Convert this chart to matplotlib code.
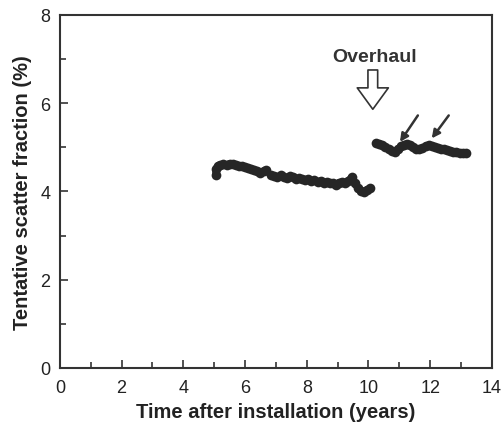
import matplotlib
matplotlib.use("Agg")
import matplotlib.pyplot as plt
from matplotlib.ticker import MultipleLocator

plt.rcParams["font.family"] = ["Liberation Sans", "DejaVu Sans"]

# before overhaul, first period
x1 = [5.05, 5.05, 5.12, 5.2, 5.3, 5.4, 5.5, 5.6, 5.7, 5.8, 5.9, 6.0, 6.1, 6.2, 6.3,
      6.4, 6.5, 6.6, 6.68]
y1 = [4.38, 4.50, 4.58, 4.60, 4.62, 4.60, 4.63, 4.62, 4.60, 4.58, 4.57, 4.55, 4.52,
      4.50, 4.48, 4.45, 4.42, 4.45, 4.48]

# before overhaul, second period
x2 = [6.85, 6.95, 7.05, 7.15, 7.25, 7.35, 7.45, 7.55, 7.65, 7.75, 7.85, 7.95, 8.05,
      8.15, 8.25, 8.35, 8.45, 8.55, 8.65, 8.75, 8.85, 8.95, 9.05, 9.15, 9.25, 9.35,
      9.45, 9.55, 9.65, 9.75, 9.85, 9.95, 10.05]
y2 = [4.36, 4.35, 4.33, 4.36, 4.33, 4.30, 4.34, 4.32, 4.28, 4.30, 4.27, 4.26, 4.28,
      4.24, 4.25, 4.22, 4.24, 4.20, 4.22, 4.19, 4.18, 4.15, 4.20, 4.22, 4.20, 4.24,
      4.32, 4.18, 4.08, 4.00, 3.98, 4.04, 4.07]

# after overhaul
x3 = [10.25, 10.35, 10.45, 10.55, 10.65, 10.75, 10.85, 10.95, 11.05, 11.15, 11.25,
      11.35, 11.45, 11.55, 11.65, 11.75, 11.85, 11.95, 12.05, 12.15, 12.25, 12.35,
      12.45, 12.55, 12.65, 12.75, 12.85, 12.95, 13.05, 13.15]
y3 = [5.10, 5.08, 5.05, 5.00, 4.95, 4.92, 4.90, 4.95, 5.02, 5.06, 5.08, 5.05, 5.00,
      4.96, 4.95, 4.98, 5.03, 5.05, 5.02, 5.00, 4.98, 4.97, 4.95, 4.93, 4.92, 4.90,
      4.90, 4.88, 4.88, 4.87]

# small arrows pointing at the bumps: (tail x, tail y, head x, head y)
arrows = [(11.6, 5.72, 11.02, 5.12), (12.6, 5.72, 12.05, 5.2)]
overhaul_x = 10.14

fig = plt.figure(figsize=(5.03, 4.27), dpi=100)
ax = fig.add_axes([0.119, 0.136, 0.859, 0.827])

for xs, ys in [(x1, y1), (x2, y2), (x3, y3)]:
    ax.plot(xs, ys, "-o", color="#262626", linewidth=5, markersize=7,
            markeredgewidth=0, solid_capstyle="round")

for x0, y0, x1_, y1_ in arrows:
    ax.annotate("", xy=(x1_, y1_), xytext=(x0, y0),
                arrowprops=dict(arrowstyle="-|>", color="#333333", lw=1.8,
                                mutation_scale=12, shrinkA=0, shrinkB=0))

# hollow "Overhaul" arrow
ax.annotate("", xy=(overhaul_x, 5.86), xytext=(overhaul_x, 6.75),
            arrowprops=dict(arrowstyle="simple,head_width=1.6,head_length=1.1,tail_width=0.5",
                            fc="white", ec="#333333", lw=1.2, mutation_scale=14,
                            shrinkA=0, shrinkB=0))
ax.text(overhaul_x + 0.05, 7.05, "Overhaul", ha="center", va="center",
        fontsize=14, fontweight="bold", color="#333333")

ax.set_xlim(0, 14)
ax.set_ylim(0, 8)
ax.xaxis.set_major_locator(MultipleLocator(2))
ax.xaxis.set_minor_locator(MultipleLocator(1))
ax.yaxis.set_major_locator(MultipleLocator(2))
ax.yaxis.set_minor_locator(MultipleLocator(1))
ax.tick_params(which="both", direction="in", color="#333333", labelcolor="#222222",
               labelsize=13, width=1.2)
ax.tick_params(which="major", length=6)
ax.tick_params(which="minor", length=4)
ax.tick_params(axis="x", which="major", pad=8)
ax.tick_params(axis="y", which="major", pad=7)
for s in ax.spines.values():
    s.set_linewidth(1.5)
    s.set_color("#333333")

ax.set_xlabel("Time after installation (years)", fontsize=14.5, fontweight="bold",
              color="#222222", labelpad=4)
ax.set_ylabel("Tentative scatter fraction (%)", fontsize=14.5, fontweight="bold",
              color="#222222", labelpad=6)

fig.savefig("out.png", dpi=100, facecolor="white")
